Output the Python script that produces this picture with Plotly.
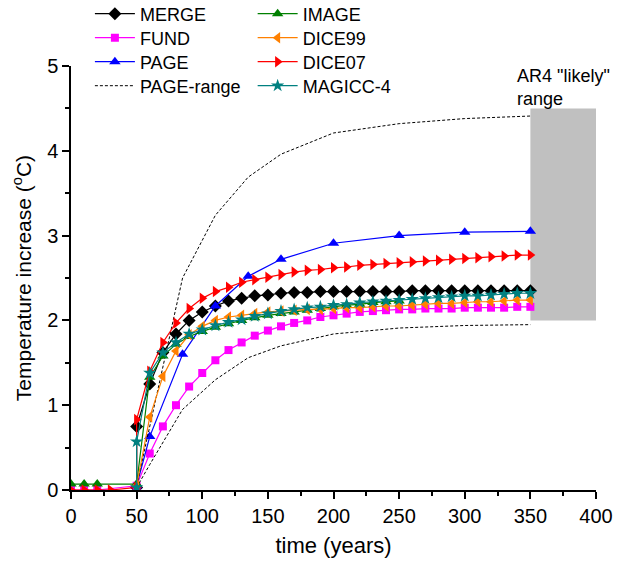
import plotly.graph_objects as go

# ---------------- data ----------------
early_10 = [0, 10, 20]
years_50_350 = list(range(50, 351, 10))
years_60_350 = list(range(60, 351, 10))
years_50_250 = list(range(50, 251, 10))

merge_t = [50] + years_50_350
merge_v = [0.03, 0.75, 1.25, 1.62, 1.84, 2.00, 2.10, 2.17, 2.23, 2.26, 2.29, 2.30,
           2.32, 2.33, 2.33, 2.34, 2.34, 2.34, 2.34, 2.34, 2.34, 2.34,
           2.35, 2.35, 2.35, 2.35, 2.35, 2.35, 2.35, 2.35, 2.35, 2.35]

fund_t = early_10 + years_50_350
fund_v = [0.0, 0.0, 0.0,
          0.05, 0.43, 0.75, 1.00, 1.22, 1.38, 1.53, 1.65, 1.74, 1.82, 1.88,
          1.93, 1.97, 2.00, 2.04, 2.06, 2.08, 2.10, 2.11, 2.12, 2.13,
          2.13, 2.14, 2.14, 2.14, 2.15, 2.15, 2.15, 2.15, 2.16, 2.16]

page_t = [50, 60, 85, 110, 135, 160, 200, 250, 300, 350]
page_v = [0.05, 0.63, 1.60, 2.17, 2.52, 2.72, 2.91, 3.00, 3.04, 3.05]
page_hi = [0.05, 0.75, 2.50, 3.24, 3.69, 3.96, 4.21, 4.32, 4.38, 4.41]
page_lo = [0.03, 0.30, 0.95, 1.30, 1.56, 1.70, 1.84, 1.91, 1.94, 1.95]

image_t = early_10 + years_50_250
image_v = [0.07, 0.07, 0.07,
           0.07, 1.33, 1.58, 1.72, 1.81, 1.87, 1.92, 1.96, 2.00, 2.03, 2.06,
           2.08, 2.10, 2.12, 2.14, 2.16, 2.18, 2.19, 2.21, 2.22, 2.23]

dice99_t = years_50_350
dice99_v = [0.05, 0.86, 1.34, 1.64, 1.83, 1.93, 2.00, 2.04, 2.06, 2.08, 2.10,
            2.11, 2.12, 2.13, 2.13, 2.14, 2.15, 2.15, 2.16, 2.17, 2.17,
            2.18, 2.19, 2.20, 2.20, 2.21, 2.22, 2.22, 2.23, 2.24, 2.24]

dice07_t = [0, 10, 20, 30, 50, 50] + years_60_350
dice07_v = [0.0, 0.0, 0.0, 0.0, 0.03, 0.83,
            1.40, 1.74, 1.97, 2.14, 2.26, 2.34, 2.39, 2.45, 2.48, 2.51,
            2.54, 2.57, 2.59, 2.60, 2.62, 2.63, 2.65, 2.66, 2.67, 2.68,
            2.69, 2.70, 2.71, 2.72, 2.73, 2.74, 2.75, 2.76, 2.77, 2.77]

magicc_t = [50] + years_50_350
magicc_v = [0.03, 0.57, 1.38, 1.62, 1.74, 1.84, 1.89, 1.94, 1.98, 2.01, 2.05, 2.08,
            2.11, 2.13, 2.15, 2.16, 2.18, 2.19, 2.21, 2.22, 2.23, 2.24,
            2.25, 2.26, 2.27, 2.28, 2.29, 2.29, 2.30, 2.31, 2.32, 2.32]

ar4_years = [350, 400]
ar4_range = [2.0, 4.5]

FONT = "Liberation Sans, Arial, sans-serif"

# legend layout: (column x in paper, row index)
COL1, COL2 = 0.036, 0.346
legend_slots = {
    "legend9": (COL1, 0), "legend2": (COL1, 1), "legend3": (COL1, 2), "legend4": (COL1, 3),
    "legend5": (COL2, 0), "legend6": (COL2, 1), "legend7": (COL2, 2), "legend8": (COL2, 3),
}
ROW_CENTERS_PX = [14, 38, 62, 86]
PLOT_TOP, PLOT_BOTTOM = 66, 490

fig = go.Figure()

def line(name, x, y, color, symbol, size, legend, width=1.2):
    fig.add_trace(go.Scatter(
        x=x, y=y, name=name, legend=legend, mode="lines+markers",
        line=dict(color=color, width=width),
        marker=dict(symbol=symbol, size=size, color=color, line=dict(width=0)),
    ))

line("MERGE", merge_t, merge_v, "black", "diamond", 10, "legend9")
line("FUND", fund_t, fund_v, "#FF00FF", "square", 8, "legend2")
line("PAGE", page_t, page_v, "#0000FF", "triangle-up", 10, "legend3")
fig.add_trace(go.Scatter(x=page_t, y=page_hi, name="PAGE-range", legend="legend4",
                         mode="lines", line=dict(color="black", width=1, dash="3px,2px")))
fig.add_trace(go.Scatter(x=page_t, y=page_lo, name="PAGE-range", legend="legend4",
                         mode="lines", showlegend=False,
                         line=dict(color="black", width=1, dash="3px,2px")))
line("IMAGE", image_t, image_v, "#008000", "triangle-up", 10, "legend5")
line("DICE99", dice99_t, dice99_v, "#FF8000", "triangle-left", 10, "legend6")
line("DICE07", dice07_t, dice07_v, "#FF0000", "triangle-right", 10, "legend7")
line("MAGICC-4", magicc_t, magicc_v, "#008080", "star", 10, "legend8")

fig.add_shape(type="rect", xref="x", yref="y",
              x0=ar4_years[0], x1=ar4_years[1], y0=ar4_range[0], y1=ar4_range[1],
              fillcolor="#C0C0C0", line=dict(width=0), layer="below")

fig.add_annotation(x=338, y=4.75, xref="x", yref="y", text='AR4 "likely"<br>range',
                   showarrow=False, xanchor="left", yanchor="middle", align="left",
                   font=dict(family=FONT, size=18, color="black"))

legends = {}
for key, (lx, row) in legend_slots.items():
    cy = (PLOT_BOTTOM - ROW_CENTERS_PX[row]) / (PLOT_BOTTOM - PLOT_TOP)
    legends[key] = dict(x=lx, y=cy, xanchor="left", yanchor="middle",
                        bgcolor="rgba(0,0,0,0)", itemwidth=40,
                        font=dict(family=FONT, size=18, color="black"))

fig.update_layout(
    width=620, height=566,
    margin=dict(l=71, r=24, t=66, b=76, autoexpand=False),
    paper_bgcolor="white", plot_bgcolor="white",
    font=dict(family=FONT, size=20, color="black"),
    showlegend=True,
    **legends,
    xaxis=dict(range=[0, 400], showline=True, linecolor="black", linewidth=1.5,
               ticks="outside", ticklen=7, tickwidth=1.5, tickcolor="black",
               dtick=50, tick0=0, showgrid=False, zeroline=False,
               minor=dict(ticks="outside", ticklen=4, tickwidth=1.5, tickcolor="black", dtick=25),
               title=dict(text="time (years)", font=dict(size=22), standoff=12),
               tickfont=dict(size=20)),
    yaxis=dict(range=[0, 5], showline=True, linecolor="black", linewidth=1.5,
               ticks="outside", ticklen=7, tickwidth=1.5, tickcolor="black",
               dtick=1, tick0=0, showgrid=False, zeroline=False,
               minor=dict(ticks="outside", ticklen=4, tickwidth=1.5, tickcolor="black", dtick=0.5),
               title=dict(text="Temperature increase (<sup>o</sup>C)", font=dict(size=21), standoff=10),
               tickfont=dict(size=20)),
)

fig.write_html("out.html")
